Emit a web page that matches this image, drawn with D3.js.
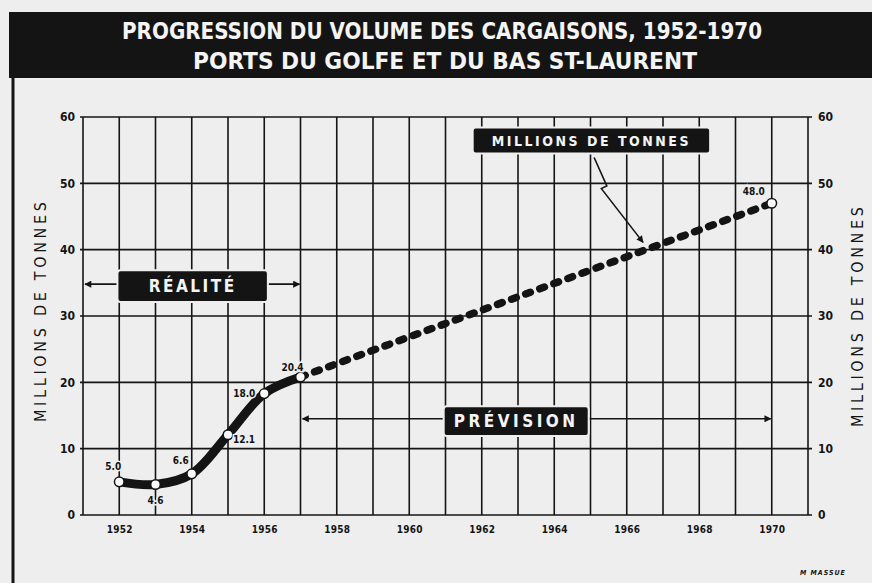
<!DOCTYPE html>
<html>
<head>
<meta charset="utf-8">
<script src="https://cdn.jsdelivr.net/npm/d3@7/dist/d3.min.js"></script>
<style>
  body { margin: 0; background: #eeeeee; }
  svg { display: block; }
  text { font-family: "DejaVu Sans Condensed", "DejaVu Sans", sans-serif; font-weight: bold; }
</style>
</head>
<body>
<svg id="chart" width="872" height="583"></svg>
<script>
// observed shipments (réalité) and forecast (prévision)
const years = [1952, 1953, 1954, 1955, 1956, 1957];
const volumes = [5.0, 4.6, 6.2, 12.1, 18.3, 20.8];
const valueLabels = ['5.0', '4.6', '6.6', '12.1', '18.0', '20.4'];
const forecastYears = [1957, 1970];
const forecastVolumes = [20.8, 47.0];
const forecastLabel = '48.0';
const xTicks = [1952, 1954, 1956, 1958, 1960, 1962, 1964, 1966, 1968, 1970];
const yTicks = [0, 10, 20, 30, 40, 50, 60];

const width = 872;
const height = 583;
const ink = '#141414';
const paper = '#eeeeee';

const svg = d3.select('#chart');

const x = d3.scaleLinear().domain([1951, 1971]).range([83, 808]);
const y = d3.scaleLinear().domain([0, 60]).range([515, 117]);

svg.append('rect').attr('width', width).attr('height', height).attr('fill', paper);

// arrow head
svg.append('defs').append('marker')
  .attr('id', 'head')
  .attr('viewBox', '0 0 10 10')
  .attr('refX', 9).attr('refY', 5)
  .attr('markerWidth', 9).attr('markerHeight', 7)
  .attr('markerUnits', 'userSpaceOnUse')
  .attr('orient', 'auto-start-reverse')
  .append('path')
  .attr('d', 'M0,0 L10,5 L0,10 Z')
  .attr('fill', ink);

// title band + frame
svg.append('rect').attr('x', 9).attr('y', 12).attr('width', width - 9).attr('height', 66).attr('fill', ink);
svg.append('line').attr('x1', 13).attr('x2', 13).attr('y1', 76).attr('y2', height)
  .attr('stroke', ink).attr('stroke-width', 3);

svg.append('text').attr('x', 442).attr('y', 39).attr('text-anchor', 'middle')
  .attr('fill', '#f4f4f4').attr('font-size', 23)
  .attr('textLength', 640).attr('lengthAdjust', 'spacingAndGlyphs')
  .text('PROGRESSION DU VOLUME DES CARGAISONS, 1952-1970');
svg.append('text').attr('x', 445).attr('y', 69).attr('text-anchor', 'middle')
  .attr('fill', '#f4f4f4').attr('font-size', 23)
  .attr('textLength', 504).attr('lengthAdjust', 'spacingAndGlyphs')
  .text('PORTS DU GOLFE ET DU BAS ST-LAURENT');

// grid
const grid = svg.append('g').attr('stroke', ink).attr('stroke-width', 1.6);
grid.selectAll('line.v')
  .data(d3.range(1951, 1972))
  .join('line')
  .attr('class', 'v')
  .attr('x1', d => x(d)).attr('x2', d => x(d))
  .attr('y1', y(60)).attr('y2', y(0));
grid.selectAll('line.h')
  .data(yTicks)
  .join('line')
  .attr('class', 'h')
  .attr('x1', x(1951) - 3).attr('x2', x(1971) + 4)
  .attr('y1', d => y(d)).attr('y2', d => y(d));

// axes labels
const yLeft = d3.axisLeft(y).tickValues(yTicks).tickSize(0).tickPadding(6);
const yRight = d3.axisRight(y).tickValues(yTicks).tickSize(0).tickPadding(8);
const xBottom = d3.axisBottom(x).tickValues(xTicks).tickFormat(d3.format('d')).tickSize(0).tickPadding(11);

const gLeft = svg.append('g').attr('transform', `translate(${x(1951) - 2},0)`).call(yLeft);
const gRight = svg.append('g').attr('transform', `translate(${x(1971) + 2},0)`).call(yRight);
const gBottom = svg.append('g').attr('transform', `translate(0,${y(0)})`).call(xBottom);
[gLeft, gRight, gBottom].forEach(g => {
  g.select('.domain').remove();
  g.selectAll('text').attr('fill', ink).style('font-family', '"DejaVu Sans Condensed", sans-serif');
});
gLeft.selectAll('text').attr('font-size', 12);
gRight.selectAll('text').attr('font-size', 12);
gBottom.selectAll('text').attr('font-size', 10).attr('letter-spacing', 0.3);

// axis titles
[[40, 312], [857, 317]].forEach(([tx, ty]) => {
  svg.append('text').attr('transform', `translate(${tx},${ty}) rotate(-90)`)
    .attr('text-anchor', 'middle').attr('dy', '0.36em').attr('fill', ink).attr('font-size', 16)
    .style('font-weight', 'normal').style('font-family', '"DejaVu Sans Condensed", sans-serif')
    .attr('textLength', 220).attr('lengthAdjust', 'spacing')
    .text('MILLIONS DE TONNES');
});

// span arrows (réalité / prévision)
const span = (x1, x2, v) => {
  svg.append('line')
    .attr('x1', x(x1) + 2).attr('x2', x(x2) - 1)
    .attr('y1', y(v)).attr('y2', y(v))
    .attr('stroke', ink).attr('stroke-width', 1.6)
    .attr('marker-start', 'url(#head)').attr('marker-end', 'url(#head)');
};
span(1951, 1957, 34.8);
span(1957, 1970, 14.5);

const tag = (x1, x2, v1, v2, label, size, spacing) => {
  svg.append('rect')
    .attr('x', x(x1)).attr('y', y(v1))
    .attr('width', x(x2) - x(x1)).attr('height', y(v2) - y(v1))
    .attr('rx', 3).attr('fill', ink)
    .attr('stroke', paper).attr('stroke-width', 2);
  svg.append('text')
    .attr('x', (x(x1) + x(x2)) / 2).attr('y', (y(v1) + y(v2)) / 2)
    .attr('dy', '0.36em').attr('text-anchor', 'middle')
    .attr('fill', '#f4f4f4').attr('font-size', size)
    .attr('letter-spacing', spacing)
    .text(label);
};
tag(1951.95, 1956.1, 36.9, 32.1, 'RÉALITÉ', 17, 2.5);
tag(1960.95, 1964.95, 16.4, 11.9, 'PRÉVISION', 17, 3.5);

// pointer from the top label
svg.append('path')
  .attr('d', d3.line()([[x(1965.1), y(53.9)], [x(1965.45), y(49.6)], [x(1965.3), y(49.2)], [x(1966.45), y(41.1)]]))
  .attr('fill', 'none').attr('stroke', ink).attr('stroke-width', 1.6)
  .attr('marker-end', 'url(#head)');
tag(1961.75, 1968.3, 58.4, 54.5, 'MILLIONS DE TONNES', 14, 2.5);

// forecast (dashed)
svg.append('path')
  .datum(forecastYears.map((d, i) => [d, forecastVolumes[i]]))
  .attr('d', d3.line().x(d => x(d[0])).y(d => y(d[1])))
  .attr('fill', 'none').attr('stroke', ink).attr('stroke-width', 7.5)
  .attr('stroke-linecap', 'round').attr('stroke-dasharray', '5,10');

// observed (solid)
const pts = years.map((d, i) => [d, volumes[i]]);
svg.append('path')
  .datum(pts)
  .attr('d', d3.line().curve(d3.curveCatmullRom.alpha(0.5)).x(d => x(d[0])).y(d => y(d[1])))
  .attr('fill', 'none').attr('stroke', ink).attr('stroke-width', 9)
  .attr('stroke-linejoin', 'round').attr('stroke-linecap', 'round');

svg.selectAll('circle.pt')
  .data(pts.concat([[forecastYears[1], forecastVolumes[1]]]))
  .join('circle')
  .attr('class', 'pt')
  .attr('cx', d => x(d[0])).attr('cy', d => y(d[1])).attr('r', 4.8)
  .attr('fill', '#fafafa').attr('stroke', ink).attr('stroke-width', 1.5);

// value labels
const offsets = [[-6, -15], [0, 16], [-11, -13], [16, 5], [-20, 0], [-8, -10]];
const lbl = svg.append('g').attr('font-size', 10).attr('fill', ink)
  .attr('stroke', paper).attr('stroke-width', 3).attr('paint-order', 'stroke');
lbl.selectAll('text')
  .data(pts)
  .join('text')
  .attr('x', (d, i) => x(d[0]) + offsets[i][0])
  .attr('y', (d, i) => y(d[1]) + offsets[i][1])
  .attr('dy', '0.35em').attr('text-anchor', 'middle')
  .text((d, i) => valueLabels[i]);
lbl.append('text')
  .attr('x', x(forecastYears[1]) - 18).attr('y', y(forecastVolumes[1]) - 12)
  .attr('dy', '0.35em').attr('text-anchor', 'middle')
  .text(forecastLabel);

// signature
svg.append('text').attr('x', 823).attr('y', 575).attr('text-anchor', 'middle')
  .attr('font-size', 7).attr('font-style', 'italic').attr('letter-spacing', 1)
  .attr('fill', ink).text('M MASSUE');
</script>
</body>
</html>
